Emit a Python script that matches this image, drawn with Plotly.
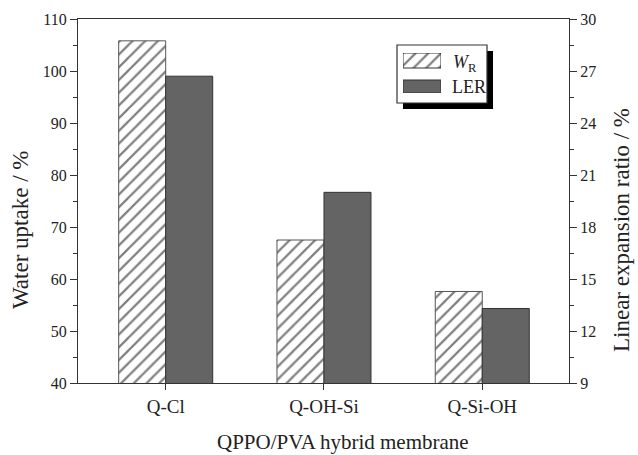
import plotly.graph_objects as go

# Data
membranes = ["Q-Cl", "Q-OH-Si", "Q-Si-OH"]
water_uptake = [105.8, 67.5, 57.6]        # W_R, %
linear_expansion = [26.7, 20.0, 13.3]     # LER, %

W, H = 638, 455
L, R, T, B = 78, 69, 19, 72
PW, PH = W - L - R, H - T - B

def px_x(px):
    return (px - L) / PW

def px_y(py):
    return (H - B - py) / PH

SERIF = "Liberation Serif, Times New Roman, serif"
TXT = "#222222"
LINE = "#333333"
LER_FILL = "#646464"

bar_w = 0.297
xs = list(range(len(membranes)))

hatch = dict(shape="/", size=9, solidity=0.25, fgcolor="#000000", bgcolor="white")

fig = go.Figure()

fig.add_trace(go.Bar(
    x=xs, y=water_uptake, width=bar_w, offset=-bar_w,
    marker=dict(color="white", line=dict(color="#555555", width=1), pattern=hatch),
    name="W_R", yaxis="y", showlegend=False,
))
fig.add_trace(go.Bar(
    x=xs, y=linear_expansion, width=bar_w, offset=0,
    marker=dict(color=LER_FILL, line=dict(color=LINE, width=1)),
    name="LER", yaxis="y2", showlegend=False,
))

# Legend swatches on a small auxiliary axis pair
legend_rows = [32.5, 6.5]
legend_thick = [15, 13]
fig.add_trace(go.Bar(
    x=[1], y=[legend_rows[0]], width=[legend_thick[0]], orientation="h",
    xaxis="x3", yaxis="y3", showlegend=False, hoverinfo="skip",
    marker=dict(color="white", line=dict(color=LINE, width=1), pattern=hatch),
))
fig.add_trace(go.Bar(
    x=[1], y=[legend_rows[1]], width=[legend_thick[1]], orientation="h",
    xaxis="x3", yaxis="y3", showlegend=False, hoverinfo="skip",
    marker=dict(color=LER_FILL, line=dict(color=LINE, width=1)),
))

tickfont = dict(family=SERIF, size=16, color=TXT)

fig.update_layout(
    width=W, height=H,
    margin=dict(l=L, r=R, t=T, b=B, pad=0),
    paper_bgcolor="white", plot_bgcolor="rgba(0,0,0,0)",
    barmode="overlay",
    xaxis=dict(
        range=[-0.554, 2.548], tickmode="array", tickvals=xs, ticktext=membranes,
        ticks="outside", ticklen=6, tickwidth=1.2, tickcolor=LINE,
        showline=True, linecolor=LINE, linewidth=1.3, mirror=True,
        showgrid=False, zeroline=False,
        tickfont=dict(family=SERIF, size=19, color=TXT),
    ),
    yaxis=dict(
        range=[40, 110], dtick=10, ticks="outside", ticklen=7, tickwidth=1.2,
        tickcolor=LINE, showline=True, linecolor=LINE, linewidth=1.3,
        showgrid=False, zeroline=False, tickfont=tickfont,
        minor=dict(dtick=5, ticks="outside", ticklen=4, tickwidth=1.2,
                   tickcolor=LINE, showgrid=False),
    ),
    yaxis2=dict(
        range=[9, 30], dtick=3, tick0=9, overlaying="y", side="right",
        ticks="outside", ticklen=7, tickwidth=1.2, tickcolor=LINE,
        showline=True, linecolor=LINE, linewidth=1.3,
        showgrid=False, zeroline=False, tickfont=tickfont,
        minor=dict(dtick=1.5, tick0=9, ticks="outside", ticklen=4, tickwidth=1.2,
                   tickcolor=LINE, showgrid=False),
    ),
    xaxis3=dict(domain=[px_x(403), px_x(441)], range=[0, 1], anchor="y3",
                visible=False, fixedrange=True),
    yaxis3=dict(domain=[px_y(93), px_y(53)], range=[0, 40], anchor="x3",
                visible=False, fixedrange=True),
)

# Legend frame with drop shadow
fig.add_shape(type="rect", xref="paper", yref="paper", layer="below",
              x0=px_x(403), x1=px_x(493), y0=px_y(109), y1=px_y(51),
              fillcolor="black", line=dict(width=0))
fig.add_shape(type="rect", xref="paper", yref="paper", layer="below",
              x0=px_x(397), x1=px_x(487), y0=px_y(103), y1=px_y(45),
              fillcolor="white", line=dict(color=LINE, width=1.2))

legend_font = dict(family=SERIF, size=18, color=TXT)
fig.add_annotation(text="<i>W</i><sub>R</sub>", xref="paper", yref="paper",
                   x=px_x(451), y=px_y(63), xanchor="left", yanchor="middle",
                   showarrow=False, font=legend_font)
fig.add_annotation(text="LER", xref="paper", yref="paper",
                   x=px_x(450), y=px_y(87), xanchor="left", yanchor="middle",
                   showarrow=False, font=legend_font)

# Axis titles
vtitle_font = dict(family=SERIF, size=23, color=TXT)
title_font = dict(family=SERIF, size=21, color=TXT)
fig.add_annotation(text="Water uptake / %", xref="paper", yref="paper",
                   x=px_x(21), y=px_y(230), textangle=-90,
                   xanchor="center", yanchor="middle", showarrow=False,
                   font=vtitle_font)
fig.add_annotation(text="Linear expansion ratio / %", xref="paper", yref="paper",
                   x=px_x(622), y=px_y(230), textangle=-90,
                   xanchor="center", yanchor="middle", showarrow=False,
                   font=vtitle_font)
fig.add_annotation(text="QPPO/PVA hybrid membrane", xref="paper", yref="paper",
                   x=px_x(343), y=px_y(442),
                   xanchor="center", yanchor="middle", showarrow=False,
                   font=title_font)

fig.write_html("out.html")
